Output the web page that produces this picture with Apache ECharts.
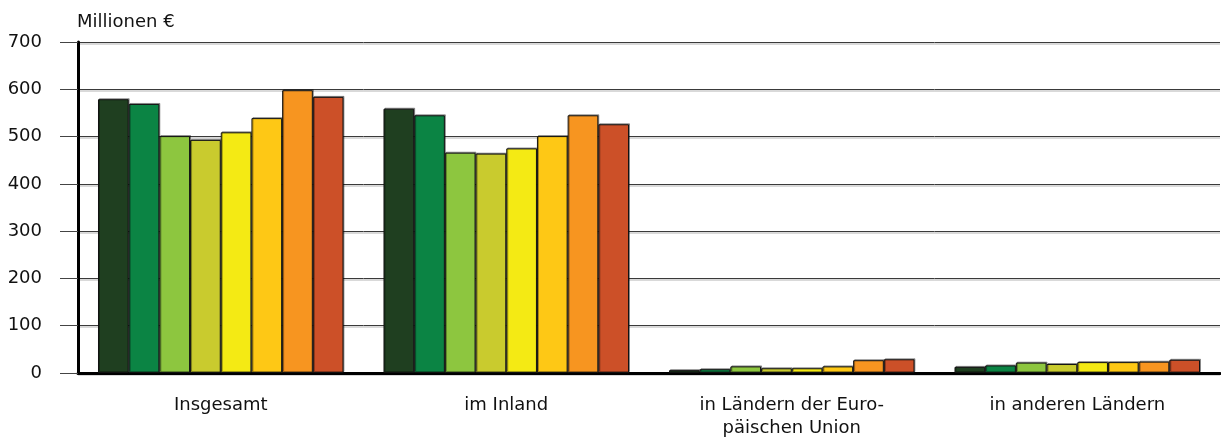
<!DOCTYPE html>
<html>
<head>
	<meta charset="utf-8" />
	<title>Millionen €</title>
	<script src="https://cdn.jsdelivr.net/npm/echarts@6/dist/echarts.min.js"></script>
	<style>
		html, body { margin: 0; padding: 0; background: #fff; }
		#main { width: 1221px; height: 444px; }
	</style>
</head>
<body>
	<div id="main"></div>
	<script type="text/javascript">
		// Kategorien
		var kategorien = ['Insgesamt', 'im Inland', 'in Ländern der Euro-\npäischen Union', 'in anderen Ländern'];
		// acht Reihen (Farben von dunkelgrün bis rot)
		var reihe1 = [579, 559, 6, 13];
		var reihe2 = [569, 545, 8, 16];
		var reihe3 = [501, 466, 14, 22];
		var reihe4 = [493, 464, 10, 19];
		var reihe5 = [509, 475, 10, 23];
		var reihe6 = [539, 501, 14, 23];
		var reihe7 = [598, 545, 27, 24];
		var reihe8 = [584, 526, 29, 28];
		var reihen = [reihe1, reihe2, reihe3, reihe4, reihe5, reihe6, reihe7, reihe8];
		var farben = ['#1f3f20', '#0b8444', '#8dc63f', '#c9cb2e', '#f4ea14', '#fec815', '#f79520', '#cc5028'];

		var schrift = 'DejaVu Sans';
		var myChart = echarts.init(document.getElementById('main'));

		var series = [];
		for (var i = 0; i < reihen.length; i++) {
			series.push({
				name: 'Reihe ' + (i + 1),
				type: 'bar',
				data: reihen[i],
				barGap: '0%',
				barCategoryGap: '14%',
				itemStyle: {
					color: farben[i],
					borderColor: '#111',
					borderWidth: 1,
					shadowColor: 'rgba(0,0,0,0.35)',
					shadowOffsetX: 1,
					shadowOffsetY: -1
				}
			});
		}

		var option = {
			animation: false,
			backgroundColor: '#fff',
			title: {
				text: 'Millionen €',
				left: 72,
				top: 8,
				textStyle: { fontFamily: schrift, fontSize: 18, fontWeight: 'normal', color: '#111' }
			},
			grid: { left: 78, right: 1, top: 42, bottom: 71 },
			xAxis: {
				type: 'category',
				data: kategorien,
				axisLine: { lineStyle: { color: '#000', width: 3 } },
				axisTick: { show: false },
				axisLabel: {
					fontFamily: schrift,
					fontSize: 18,
					lineHeight: 23,
					color: '#111',
					margin: 21
				}
			},
			yAxis: {
				type: 'value',
				min: 0,
				max: 700,
				interval: 100,
				axisLine: { show: true, lineStyle: { color: '#000', width: 3 } },
				axisTick: { show: true, length: 18, lineStyle: { color: '#444', width: 1 } },
				axisLabel: {
					fontFamily: schrift,
					fontSize: 18,
					color: '#111',
					margin: 36
				},
				splitLine: {
					lineStyle: {
						color: '#3a3a3a',
						width: 1,
						shadowColor: 'rgba(0,0,0,0.3)',
						shadowOffsetY: 1.5
					}
				}
			},
			series: series
		};

		myChart.setOption(option);
	</script>
</body>
</html>
